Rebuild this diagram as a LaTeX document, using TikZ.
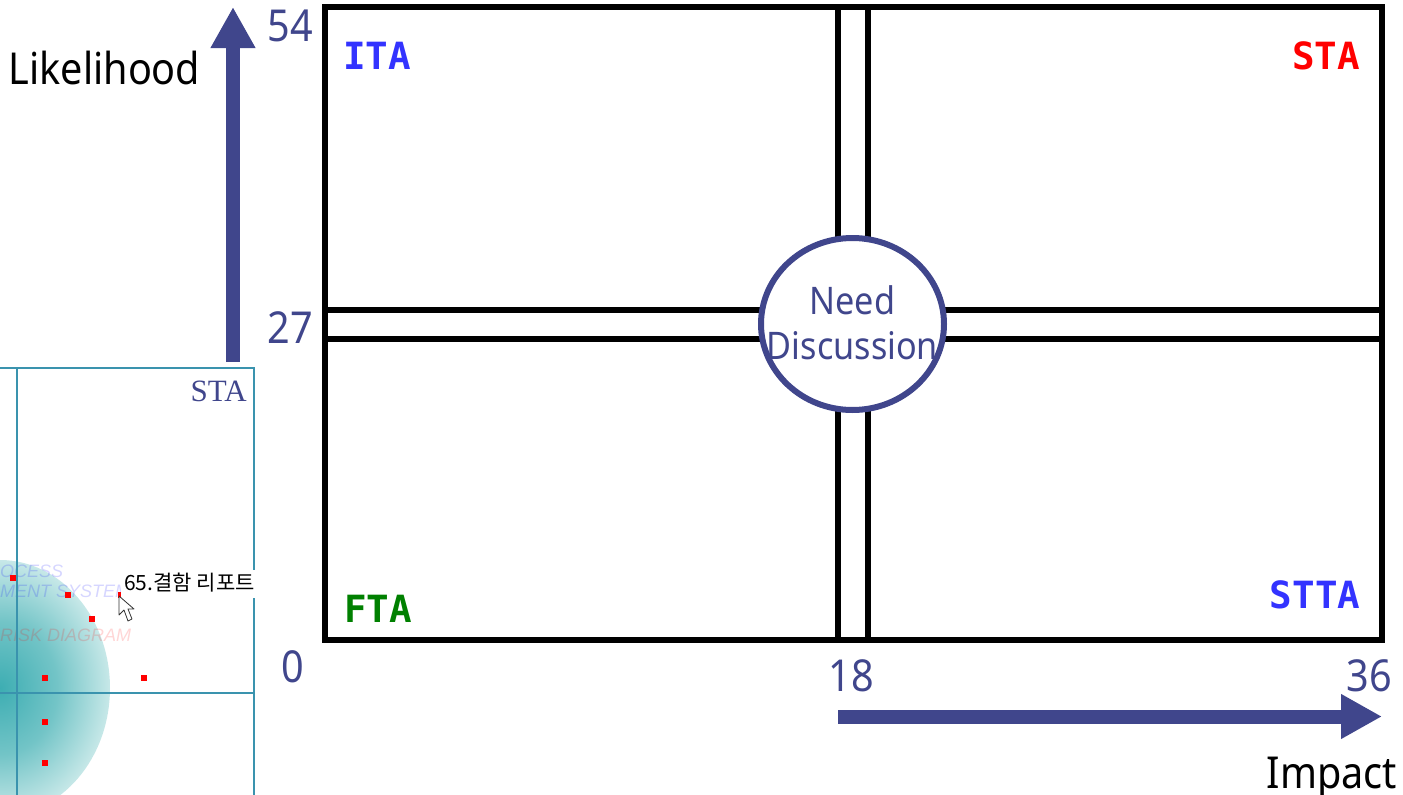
\documentclass[tikz,border=0pt]{standalone}
\usepackage{fontspec}
\setmainfont[FakeStretch=0.9]{Noto Sans}
\newfontfamily\monofont{DejaVu Sans Mono}
\newfontfamily\serifont{Liberation Serif}
\newfontfamily\sansfont{Liberation Sans}
\newfontfamily\cjkfont{Noto Sans CJK KR}
\usetikzlibrary{arrows.meta, positioning, shapes.geometric}
\definecolor{slidenavy}{HTML}{40468C}
\definecolor{insetteal}{HTML}{3A93AE}
\definecolor{quadblue}{HTML}{3333FF}
\definecolor{quadgreen}{HTML}{008000}
\pgfdeclareradialshading{riskglow}{\pgfpoint{0bp}{0bp}}{rgb(0bp)=(0.24,0.68,0.70); rgb(13bp)=(0.45,0.77,0.78); rgb(25bp)=(0.78,0.91,0.91); rgb(50bp)=(0.78,0.91,0.91)}
\tikzset{x=1pt,y=-1pt,
    gridline/.style={draw=black,line width=6pt},
    insetline/.style={draw=insetteal,line width=2pt},
    bigarrow/.style={draw=slidenavy,line width=14pt,-{Triangle[width=42pt,length=41pt]}},
    ticklabel/.style={text=slidenavy,font=\fontsize{44}{45}\selectfont,inner sep=0pt,anchor=base},
    needlabel/.style={text=slidenavy,font=\fontsize{38}{45}\selectfont,inner sep=0pt,anchor=base},
    axislabel/.style={text=black,font=\fontsize{44}{45}\selectfont,inner sep=0pt,anchor=base},
    quadlabel/.style={font=\monofont\bfseries\fontsize{37.5}{38}\selectfont,inner sep=0pt,anchor=base},
    redpoint/.style={fill=red,inner sep=0pt,minimum size=6pt},
    ghostlabel/.style={font=\sansfont\itshape\fontsize{18}{18}\selectfont,inner sep=0pt,anchor=base west,opacity=0.16}}
\begin{document}
\begin{tikzpicture}
\useasboundingbox (0,0) rectangle (1403,795);
\coordinate (tl) at (324.5,6.5);
\coordinate (tr) at (1382,6.5);
\coordinate (bl) at (324.5,640);
\coordinate (br) at (1382,640);
\coordinate (vat) at (838,6.5);
\coordinate (vab) at (838,640);
\coordinate (vbt) at (868,6.5);
\coordinate (vbb) at (868,640);
\coordinate (hal) at (324.5,310);
\coordinate (har) at (1382,310);
\coordinate (hbl) at (324.5,339);
\coordinate (hbr) at (1382,339);
\draw[gridline] (tl) -- (tr) -- (br) -- (bl) -- cycle;
\draw[gridline] (vat) -- (vab);
\draw[gridline] (vbt) -- (vbb);
\draw[gridline] (hal) -- (har);
\draw[gridline] (hbl) -- (hbr);
\node[ellipse,draw=slidenavy,line width=6pt,fill=white,minimum width=183pt,minimum height=172pt,inner sep=0pt] (need) at (852.5,324) {};
\node[needlabel] (needa) at (852.5,314) {Need};
\node[needlabel] (needb) at (852.5,359) {Discussion};
\node[quadlabel,text=quadblue] (ita) at (377,69) {ITA};
\node[quadlabel,text=red] (sta) at (1326,69) {STA};
\node[quadlabel,text=quadgreen] (fta) at (378,622) {FTA};
\node[quadlabel,text=quadblue] (stta) at (1315,608) {STTA};
\node[ticklabel] (ya) at (290.5,41) {54};
\node[ticklabel] (yb) at (290.5,343) {27};
\node[ticklabel] (yc) at (292.5,682) {0};
\node[ticklabel] (xa) at (851,691) {18};
\node[ticklabel] (xb) at (1369.5,691) {36};
\node[axislabel] (likelihood) at (104.5,84) {Likelihood};
\node[axislabel] (impact) at (1332,788) {Impact};
\coordinate (likestart) at (233,362);
\coordinate (likeend) at (233,7);
\coordinate (impstart) at (838,716.5);
\coordinate (impend) at (1382,716.5);
\draw[bigarrow] (likestart) -- (likeend);
\draw[bigarrow] (impstart) -- (impend);
\shade[shading=riskglow] (0,688) ellipse [x radius=110,y radius=128];
\node[ghostlabel,text=blue] (ghosta) at (0,577) {OCESS};
\node[ghostlabel,text=blue] (ghostb) at (0,597) {MENT SYSTEM};
\node[ghostlabel,text=red] (ghostc) at (0,641) {RISK DIAGRAM};
\coordinate (insettl) at (0,368);
\coordinate (insettr) at (254,368);
\coordinate (insetbr) at (254,795);
\coordinate (insetvt) at (17,368);
\coordinate (insetvb) at (17,795);
\coordinate (insetml) at (0,693);
\coordinate (insetmr) at (254,693);
\draw[insetline] (insettl) -- (insettr) -- (insetbr);
\draw[insetline] (insetvt) -- (insetvb);
\draw[insetline] (insetml) -- (insetmr);
\node[anchor=base east,inner sep=0pt,text=slidenavy,font=\serifont\fontsize{31}{31}\selectfont] (insetsta) at (247,401) {STA};
\foreach \px/\py in {13/578,68/595,92/619,45/678,144/678,45/722,45/763}
  \node[redpoint] at (\px,\py) {};
\node[redpoint,minimum width=3pt] (hover) at (119,595) {};
\node[fill=white,anchor=north west,minimum width=138pt,minimum height=28pt,inner sep=0pt] (tip) at (121,570) {};
\node[anchor=base west,inner sep=0pt,font=\cjkfont\fontsize{21}{21}\selectfont] (tiptext) at (124,590) {65.결함 리포트};
\draw[fill=white,draw=black!80,line width=0.8pt,line join=round] (119,596) -- (119,615) -- (124,610) -- (128,621) -- (132,619) -- (128,609) -- (134,609) -- cycle;
\end{tikzpicture}
\end{document}
